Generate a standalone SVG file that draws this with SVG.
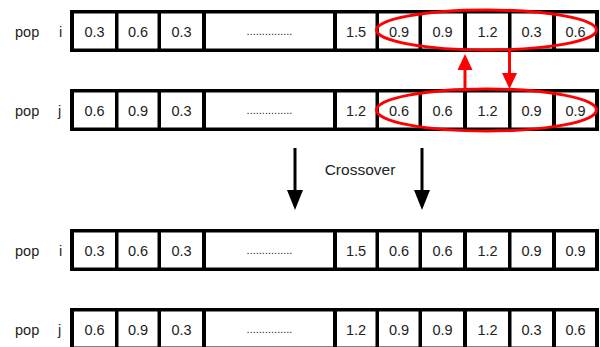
<svg xmlns="http://www.w3.org/2000/svg" width="600" height="347" viewBox="0 0 600 347">
<defs>
<style>
.frame{fill:#000}
.cell{fill:#fff}
.t{font-family:"Liberation Sans",Arial,sans-serif;font-size:14.5px;fill:#222;text-anchor:middle}
.lbl{font-family:"Liberation Sans",Arial,sans-serif;font-size:14.5px;fill:#222}
.dots{font-family:"Liberation Sans",Arial,sans-serif;font-size:11px;fill:#222;text-anchor:middle}
.ell{fill:none;stroke:#f00;stroke-width:3}
.rs{stroke:#f00;stroke-width:3;fill:none}
.bs{stroke:#000;stroke-width:3;fill:none}
</style>
<g id="rowtpl">
<rect class="frame" x="70" y="0" width="529" height="42"/>
<rect class="cell" x="74" y="3.5" width="41" height="35"/>
<rect class="cell" x="118.5" y="3.5" width="39" height="35"/>
<rect class="cell" x="161" y="3.5" width="41" height="35"/>
<rect class="cell" x="206" y="3.5" width="127" height="35"/>
<rect class="cell" x="337" y="3.5" width="38.5" height="35"/>
<rect class="cell" x="379" y="3.5" width="39.5" height="35"/>
<rect class="cell" x="422" y="3.5" width="41" height="35"/>
<rect class="cell" x="467" y="3.5" width="41" height="35"/>
<rect class="cell" x="511.5" y="3.5" width="40.5" height="35"/>
<rect class="cell" x="556" y="3.5" width="39" height="35"/>
<text class="dots" x="269.5" y="24.5">...............</text>
</g>
</defs>
<g id="pop-i-before">
<use href="#rowtpl" y="10"/>
<text class="lbl" x="15" y="36.5">pop</text>
<text class="lbl" x="59" y="36.5">i</text>
<text class="t" x="94.5" y="36.5">0.3</text>
<text class="t" x="138" y="36.5">0.6</text>
<text class="t" x="181.5" y="36.5">0.3</text>
<text class="t" x="356" y="36.5">1.5</text>
<text class="t" x="399" y="36.5">0.9</text>
<text class="t" x="442.5" y="36.5">0.9</text>
<text class="t" x="487.5" y="36.5">1.2</text>
<text class="t" x="531.5" y="36.5">0.3</text>
<text class="t" x="575.5" y="36.5">0.6</text>
<ellipse class="ell" cx="486.5" cy="30" rx="110" ry="20"/>
</g>
<g id="pop-j-before">
<use href="#rowtpl" y="89"/>
<text class="lbl" x="15" y="115.5">pop</text>
<text class="lbl" x="58" y="115.5">j</text>
<text class="t" x="94.5" y="115.5">0.6</text>
<text class="t" x="138" y="115.5">0.9</text>
<text class="t" x="181.5" y="115.5">0.3</text>
<text class="t" x="356" y="115.5">1.2</text>
<text class="t" x="399" y="115.5">0.6</text>
<text class="t" x="442.5" y="115.5">0.6</text>
<text class="t" x="487.5" y="115.5">1.2</text>
<text class="t" x="531.5" y="115.5">0.9</text>
<text class="t" x="575.5" y="115.5">0.9</text>
<ellipse class="ell" cx="486.5" cy="110" rx="110" ry="21"/>
</g>
<g id="pop-i-after">
<use href="#rowtpl" y="229"/>
<text class="lbl" x="15" y="255.5">pop</text>
<text class="lbl" x="59" y="255.5">i</text>
<text class="t" x="94.5" y="255.5">0.3</text>
<text class="t" x="138" y="255.5">0.6</text>
<text class="t" x="181.5" y="255.5">0.3</text>
<text class="t" x="356" y="255.5">1.5</text>
<text class="t" x="399" y="255.5">0.6</text>
<text class="t" x="442.5" y="255.5">0.6</text>
<text class="t" x="487.5" y="255.5">1.2</text>
<text class="t" x="531.5" y="255.5">0.9</text>
<text class="t" x="575.5" y="255.5">0.9</text>
</g>
<g id="pop-j-after">
<use href="#rowtpl" y="308"/>
<text class="lbl" x="15" y="334.5">pop</text>
<text class="lbl" x="58" y="334.5">j</text>
<text class="t" x="94.5" y="334.5">0.6</text>
<text class="t" x="138" y="334.5">0.9</text>
<text class="t" x="181.5" y="334.5">0.3</text>
<text class="t" x="356" y="334.5">1.2</text>
<text class="t" x="399" y="334.5">0.9</text>
<text class="t" x="442.5" y="334.5">0.9</text>
<text class="t" x="487.5" y="334.5">1.2</text>
<text class="t" x="531.5" y="334.5">0.3</text>
<text class="t" x="575.5" y="334.5">0.6</text>
</g>
<g id="connectors">
<line class="rs" x1="465" y1="89" x2="465" y2="68"/>
<polygon fill="#f00" points="465,54 472.5,70 457.5,70"/>
<line class="rs" x1="509.5" y1="50" x2="509.5" y2="74"/>
<polygon fill="#f00" points="509.5,89 502,73 517,73"/>
<line class="bs" x1="295" y1="148" x2="295" y2="192"/>
<polygon fill="#000" points="295,210 287,190 303,190"/>
<line class="bs" x1="422" y1="148" x2="422" y2="192"/>
<polygon fill="#000" points="422,210 414,190 430,190"/>
<text class="lbl" x="360" y="175" text-anchor="middle" style="font-size:15.5px">Crossover</text>
</g>
</svg>
